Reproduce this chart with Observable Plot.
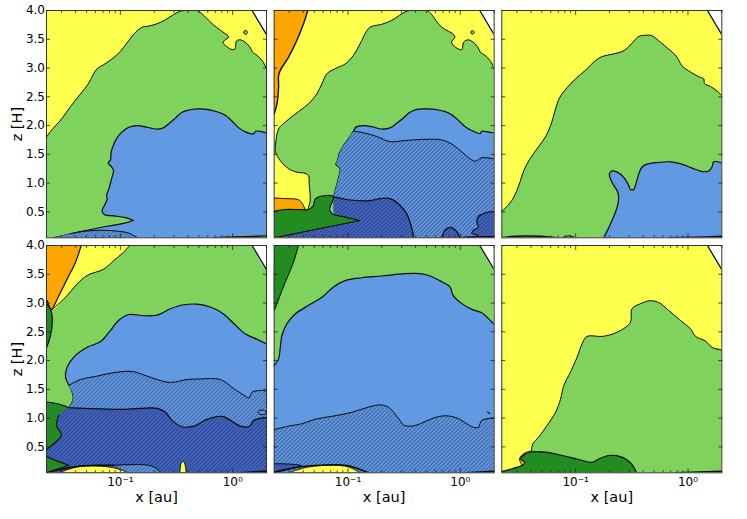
<!DOCTYPE html>
<html><head><meta charset="utf-8">
<script src="https://cdn.jsdelivr.net/npm/d3@7"></script>
<script src="https://cdn.jsdelivr.net/npm/@observablehq/plot@0.6"></script>
<style>html,body{margin:0;padding:0;background:#fff}svg{display:block}</style>
</head><body>
<svg width="0" height="0" style="position:absolute"><defs>
<pattern id="hatchBlue" patternUnits="userSpaceOnUse" width="4" height="4"><rect width="4" height="4" fill="#6299E3"/><path d="M-1,1L1,-1M0,4L4,0M3,5L5,3" stroke="#1c2f5c" stroke-width=".75"/></pattern>
<pattern id="hatchDark" patternUnits="userSpaceOnUse" width="4" height="4"><rect width="4" height="4" fill="#4366C4"/><path d="M-1,1L1,-1M0,4L4,0M3,5L5,3" stroke="#14224c" stroke-width=".75"/></pattern>
</defs></svg>
<script>
// Axis values
const xDomain = [0.022, 2], zDomain = [0.049, 4];
const xMajor = [0.1, 1], xMajorLabels = ["10⁻¹", "10⁰"];
const xMinor = [0.03,0.04,0.05,0.06,0.07,0.08,0.09,0.2,0.3,0.4,0.5,0.6,0.7,0.8,0.9,2];
const zTicks = [0.5,1,1.5,2,2.5,3,3.5,4];
const L = Math.log10(xDomain[0]), R = Math.log10(xDomain[1]), B = zDomain[0], T = zDomain[1];
const BL=[L,B], BR=[R,B], TL=[L,T], TR=[R,T], fullPanel=[BL,TL,TR,BR];
const YELLOW="#FFFF4D", LIGHT="#7FD35C", BLUE="#6299E3", DGREEN="#228B22", ORANGE="#FFA500", INK="#0a0a0a";
const HBLUE="url(#hatchBlue)", HDARK="url(#hatchDark)";
const P1=[0,0],P2=[1,0],P3=[2,0],P4=[0,1],P5=[1,1],P6=[2,1];

// Boundaries, as [log10 x, z]
const cornerEdge=[[.173,4],[.301,3.58]];

const p1Green=[[L,1.80],[-1.621,1.90],[-1.576,2.00],[-1.517,2.13],[-1.444,2.33],[-1.355,2.55],[-1.281,2.74],[-1.241,2.89],[-1.206,2.99],[-1.147,3.06],[-1.073,3.16],[-.999,3.29],[-.925,3.48],[-.866,3.62],[-.805,3.71],[-.746,3.73],[-.673,3.77],[-.599,3.84],[-.525,3.93],[-.466,3.99],[-.405,4],[-.317,4],[-.272,3.94],[-.199,3.80],[-.14,3.70],[-.075,3.61],[-.036,3.54],[-.087,3.45],[-.051,3.37],[-.004,3.32],[.02,3.33],[.034,3.47],[.07,3.49],[.129,3.42],[.164,3.33],[.176,3.28],[.217,3.22],[.262,3.13],[R,2.99]];
const p1Oval=[[.098,3.62],[.103,3.645],[.114,3.655],[.125,3.645],[.13,3.62],[.125,3.595],[.114,3.585],[.103,3.595],[.098,3.62]];
const p1Blue=[[R,1.87],[.247,1.90],[.203,1.90],[.188,1.86],[.158,1.86],[.114,1.89],[.055,1.96],[-.007,2.08],[-.066,2.18],[-.14,2.24],[-.228,2.28],[-.317,2.29],[-.39,2.27],[-.451,2.23],[-.51,2.13],[-.569,2.03],[-.628,1.95],[-.687,1.94],[-.761,1.97],[-.852,2.00],[-.925,1.97],[-.984,1.89],[-1.029,1.79],[-1.064,1.65],[-1.082,1.54],[-1.088,1.40],[-1.108,1.35],[-1.082,1.29],[-1.061,1.22],[-1.079,1.07],[-1.102,.90],[-1.123,.78],[-1.117,.73],[-1.141,.61],[-1.163,.52],[-1.141,.45],[-1.058,.43],[-.955,.40],[-.885,.35],[-.885,.35],[-.97,.30],[-1.117,.25],[-1.296,.18],[-1.444,.12],[-1.597,B]];
const p1Lens=[[-1.444,.12],[-1.326,.16],[-1.176,.18],[-1.029,.165],[-.925,.13],[-.846,B]];
const p1Base=[[-.169,B],[R,.083]];

const p2Orange=[[-1.358,4],[-1.396,3.77],[-1.456,3.48],[-1.529,3.19],[-1.603,2.96],[-1.618,2.87],[-1.618,2.67],[-1.632,2.38],[L,2.20]];
const p2Green=[[-1.358,.54],[-1.337,.70],[-1.346,.99],[-1.352,1.13],[-1.382,1.17],[-1.456,1.19],[-1.529,1.25],[-1.603,1.39],[-1.646,1.54],[-1.646,1.65],[-1.618,1.94],[-1.559,2.06],[-1.47,2.20],[-1.352,2.38],[-1.278,2.55],[-1.232,2.73],[-1.188,2.90],[-1.114,2.99],[-1.026,3.07],[-.952,3.22],[-.893,3.42],[-.832,3.65],[-.794,3.72],[-.699,3.76],[-.611,3.83],[-.522,3.94],[-.476,3.99],[-.417,4],[-.299,4],[-.255,3.93],[-.196,3.77],[-.137,3.67],[-.078,3.61],[-.048,3.54],[-.078,3.45],[-.042,3.36],[.014,3.32],[.029,3.45],[.073,3.49],[.132,3.42],[.167,3.32],[.176,3.28],[.22,3.22],[.265,3.13],[R,2.99]];
const p2Oval=[[.092,3.62],[.097,3.64],[.108,3.65],[.119,3.64],[.124,3.62],[.119,3.6],[.108,3.59],[.097,3.6],[.092,3.62]];
const p2BlueTop=[[R,1.87],[.244,1.89],[.191,1.90],[.176,1.86],[.117,1.90],[.043,1.98],[-.033,2.12],[-.107,2.22],[-.196,2.27],[-.299,2.29],[-.387,2.28],[-.448,2.23],[-.507,2.13],[-.566,2.04],[-.625,1.96],[-.699,1.94],[-.788,1.98],[-.861,2.00],[-.931,1.97],[-.943,1.93]];
const p2BlueLeft=[[-.996,1.77],[-1.04,1.65],[-1.079,1.51],[-1.091,1.40],[-1.108,1.33],[-1.07,1.25],[-1.079,1.13],[-1.114,.87],[-1.129,.76]];
const p2HatchTop=[[-.943,1.90],[-.849,1.87],[-.745,1.81],[-.625,1.72],[-.493,1.74],[-.314,1.76],[-.166,1.75],[-.078,1.68],[.014,1.54],[.073,1.44],[.132,1.38],[.191,1.44],[R,1.42]];
const p2Deep=[[-1.129,.76],[-.996,.71],[-.878,.69],[-.788,.70],[-.714,.73],[-.625,.73],[-.552,.64],[-.478,.47],[-.434,.23],[-.417,B]];
const p2DeepBump=[[-.166,B],[-.137,.18],[-.092,.23],[-.042,.18],[-.004,B]];
const p2DeepRight=[[R,.51],[.22,.48],[.161,.42],[.147,.32],[.161,.23],[.117,.18],[.102,.13],[.161,.09],[.02,.055]];
const p2Base=[[-.004,.055],[.14,.065],[R,.07]];
const p2Forest=[[L,B],[L,B],[-.893,.35],[-.893,.35],[-1.026,.41],[-1.144,.47],[-1.164,.55],[-1.129,.76],[-1.217,.78],[-1.293,.72],[-1.308,.61],[-1.352,.54],[-1.441,.54],[-1.559,.54],[L,.51]];
const p2OrangeLow=[[L,.74],[-1.559,.73],[-1.441,.71],[-1.405,.64],[-1.382,.54]];

const p3Green=[[L,.51],[-1.594,.63],[-1.55,.76],[-1.506,.96],[-1.461,1.22],[-1.417,1.39],[-1.343,1.60],[-1.27,1.80],[-1.223,2.00],[-1.179,2.29],[-1.144,2.48],[-1.076,2.66],[-1.002,2.81],[-.914,2.96],[-.823,3.13],[-.764,3.20],[-.676,3.24],[-.572,3.30],[-.499,3.43],[-.438,3.55],[-.379,3.57],[-.32,3.56],[-.246,3.45],[-.172,3.33],[-.098,3.19],[-.054,3.04],[.023,2.93],[.096,2.85],[.141,2.81],[.147,2.73],[.2,2.68],[.259,2.60],[R,2.52]];
const p3Blue=[[R,1.35],[.229,1.37],[.214,1.28],[.185,1.21],[.126,1.20],[.037,1.26],[-.054,1.33],[-.157,1.37],[-.261,1.36],[-.364,1.33],[-.408,1.28],[-.438,1.16],[-.463,.99],[-.484,.89],[-.513,.89],[-.528,.96],[-.572,1.10],[-.631,1.19],[-.681,1.21],[-.699,1.16],[-.69,1.07],[-.661,.96],[-.631,.87],[-.617,.76],[-.631,.58],[-.69,.29],[-.749,B]];
const p3BaseLeft=[[L,.05],[-1.58,.07],[-1.417,.08],[-1.211,.06],[-1.165,B]];
const p3BaseLens=[[-1.12,B],[-1.061,.085],[-1.002,B]];
const p3BaseRight=[[-.172,B],[.067,.06],[R,.075]];

const p4Yellow=[[-.917,4],[-.984,3.86],[-1.058,3.74],[-1.147,3.59],[-1.296,3.48],[-1.385,3.33],[-1.488,3.10],[-1.606,2.89]];
const p4Orange=[[-1.349,4],[-1.399,3.71],[-1.473,3.42],[-1.547,3.13],[-1.615,2.89],[-1.65,3.04]];
const p4Sliver=[[L,2.99],[-1.621,2.89],[-1.606,2.73],[-1.621,2.44],[L,2.22]];
const p4Blue=[[R,2.29],[.217,2.37],[.114,2.46],[.011,2.64],[-.081,2.81],[-.199,2.93],[-.317,2.98],[-.435,2.97],[-.555,2.90],[-.673,2.79],[-.791,2.78],[-.925,2.80],[-1.014,2.70],[-1.102,2.49],[-1.176,2.33],[-1.296,2.23],[-1.414,2.06],[-1.473,1.89],[-1.488,1.71],[-1.458,1.57],[-1.429,1.45],[-1.42,1.33],[-1.458,1.18]];
const p4HatchLeft=[[-1.458,1.18],[-1.42,1.33],[-1.429,1.45]];
const p4HatchTop=[[-1.458,1.57],[-1.355,1.67],[-1.206,1.73],[-1.058,1.79],[-.896,1.81],[-.791,1.75],[-.673,1.67],[-.555,1.62],[-.405,1.67],[-.287,1.68],[-.11,1.67],[.011,1.51],[.099,1.40],[.144,1.35],[.173,1.45],[.247,1.48],[R,1.47]];
const p4Oval=[[.227,1.10],[.24,1.13],[.262,1.14],[.285,1.13],[.298,1.10],[.285,1.07],[.262,1.06],[.24,1.07],[.227,1.10]];
const p4Forest=[[L,1.28],[-1.562,1.25],[-1.458,1.18]];
const p4DeepTop=[[-1.458,1.18],[-1.326,1.17],[-1.176,1.16],[-.999,1.15],[-.82,1.17],[-.673,1.17],[-.599,1.10],[-.54,.96],[-.451,.85],[-.346,.86],[-.228,.98],[-.095,1.03],[-.019,.96],[.055,.87],[.144,.85],[.188,.96],[R,1.01]];
const p4DeepLeft=[[L,B],[L,B],[-1.458,.18],[-1.458,.18],[-1.621,.30],[L,.35],[L,.44],[-1.576,.58],[-1.524,.71],[-1.568,.87],[-1.547,1.05]];
const p4LowLine=[[L,B],[-1.546,.10],[-1.385,.16],[-1.206,.18],[-1.058,.18]];
const p4LowHatch=[[-1.058,.18],[-.911,.19],[-.791,.19],[-.702,.15],[-.658,.09],[-.637,B]];
const p4LowYellow=[[-1.546,B],[-1.385,.15],[-1.206,.165],[-1.058,.135],[-.925,B]];
const p4Spike=[[-.47,B],[-.461,.205],[-.444,.25],[-.426,.205],[-.414,B]];
const p4Base=[[.07,B],[R,.08]];

const p5Forest=[[-1.441,4],[-1.485,3.71],[-1.559,3.36],[L,2.87]];
const p5Blue=[[L,1.91],[-1.618,2.03],[-1.603,2.23],[-1.588,2.44],[-1.544,2.64],[-1.47,2.81],[-1.352,2.96],[-1.232,3.10],[-1.129,3.28],[-1.026,3.39],[-.878,3.44],[-.699,3.47],[-.493,3.51],[-.358,3.51],[-.269,3.47],[-.166,3.37],[-.092,3.28],[-.063,3.13],[.014,2.99],[.102,2.89],[.191,2.83],[.25,2.73],[R,2.63]];
const p5HatchTop=[[L,.80],[-1.529,.86],[-1.411,.90],[-1.293,.98],[-1.144,1.03],[-.967,1.10],[-.819,1.19],[-.714,1.23],[-.64,1.19],[-.581,1.07],[-.537,.96],[-.507,.88],[-.434,.86],[-.358,.90],[-.255,.99],[-.137,1.04],[-.03,1.0],[.058,.90],[.117,.84],[.161,.84],[.191,.96],[R,1.0]];
const p5Flick=[[.243,1.10],[.263,1.08]];
const p5DeepLens=[[L,.205],[-1.559,.205],[-1.411,.17],[-1.546,.10],[L,B]];
const p5LowYellow=[[-1.529,B],[-1.352,.15],[-1.144,.18],[-.996,.15],[-.893,B]];
const p5LowLine=[[L,.06],[-1.441,.15],[-1.232,.18],[-1.026,.18],[-.908,.12],[-.819,B]];
const p5Dot=[[-.44,B],[-.43,.07],[-.42,B]];
const p5Base=[[.043,B],[R,.075]];

const p6Green=[[-1.393,.42],[-1.382,.55],[-1.329,.67],[-1.255,.87],[-1.179,1.10],[-1.135,1.33],[-1.105,1.57],[-1.046,1.80],[-.987,2.06],[-.943,2.29],[-.899,2.42],[-.764,2.42],[-.646,2.48],[-.513,2.66],[-.499,2.90],[-.408,3.00],[-.343,3.04],[-.261,3.01],[-.172,2.87],[-.069,2.70],[.023,2.55],[.067,2.42],[.155,2.34],[.214,2.23],[R,2.18]];
const p6Forest=[[L,.07],[-1.565,.12],[-1.476,.18],[-1.452,.23],[-1.491,.29],[-1.461,.36],[-1.393,.41],[-1.27,.41],[-1.12,.35],[-.973,.28],[-.853,.23],[-.794,.29],[-.705,.35],[-.617,.34],[-.541,.27],[-.482,.15],[-.46,B]];
const p6Thread=[[-1.476,.18],[-1.5,.27],[-1.5,.30],[-1.461,.385],[-1.393,.425],[-1.393,.41]];
const p6Base=[[-.113,B],[R,.075]];

// Marks
const dup = pts => pts.flatMap(p => [p, p]);
const place = panel => ({x:d=>10**d[0], y:d=>d[1], fx:()=>panel[0], fy:()=>panel[1], curve:"catmull-rom", clip:true});
function region(panel, color, curve, closure=[], lead=[], width=1){
  const out=[Plot.line([...lead,...curve,...dup(closure)], {...place(panel), fill:color, stroke:"none"})];
  if(curve.length) out.push(Plot.line(curve, {...place(panel), stroke:INK, strokeWidth:width}));
  return out;
}
const line = (panel, curve, width=1.2) => Plot.line(curve, {...place(panel), stroke:INK, strokeWidth:width});
const corner = panel => region(panel, "#fff", cornerEdge, [TR], [], 1.3);

const marks = [
  // panel 1
  region(P1,YELLOW,[],fullPanel),
  region(P1,LIGHT,p1Green,[BR,BL]),
  region(P1,LIGHT,p1Oval),
  region(P1,BLUE,p1Blue,[BR],[],1.2),
  region(P1,HBLUE,p1Lens,[],[[-1.597,B]]),
  region(P1,LIGHT,p1Base,[BR],[],1.4),
  corner(P1),
  // panel 2
  region(P2,YELLOW,[],fullPanel),
  region(P2,ORANGE,p2Orange,[TL],[],1.4),
  region(P2,ORANGE,p2OrangeLow,[[L,.5]]),
  region(P2,LIGHT,p2Green,[BR,[-1.358,B]]),
  region(P2,LIGHT,p2Oval),
  region(P2,BLUE,[...p2BlueTop,...p2BlueLeft],[[-1.129,B],BR],[],1.2),
  region(P2,HBLUE,p2HatchTop,[BR,[-1.129,B]],[...p2BlueLeft].reverse()),
  region(P2,HDARK,p2Deep,[BL,[-1.129,.3]],[],1.2),
  region(P2,HDARK,p2DeepBump,[],[],1.2),
  region(P2,HDARK,p2DeepRight,[[.02,B],BR],[],1.1),
  line(P2,p2Base,1.4),
  region(P2,DGREEN,p2Forest,[],[],1.1),
  corner(P2),
  // panel 3
  region(P3,YELLOW,[],fullPanel),
  region(P3,LIGHT,p3Green,[BR,BL]),
  region(P3,BLUE,p3Blue,[BR],[],1.2),
  region(P3,BLUE,p3BaseLens),
  line(P3,p3BaseLeft,1.5),
  line(P3,p3BaseRight,1.4),
  corner(P3),
  // panel 4
  region(P4,LIGHT,[],fullPanel),
  region(P4,YELLOW,p4Yellow,[TL]),
  region(P4,ORANGE,p4Orange,[TL],[],1.2),
  region(P4,DGREEN,p4Sliver,[],[],1.2),
  region(P4,BLUE,p4Blue,[[-1.458,B],BR],[],1.2),
  region(P4,HBLUE,p4HatchTop,[BR,[-1.458,B]],p4HatchLeft),
  region(P4,BLUE,p4Oval),
  region(P4,DGREEN,p4Forest,[[-1.458,B],BL],[],1.2),
  region(P4,HDARK,p4DeepTop,[BR,BL],[...p4DeepLeft],1.2),
  line(P4,p4DeepLeft,1.1),
  region(P4,HBLUE,p4LowHatch,[[-.925,B]]),
  region(P4,YELLOW,p4LowYellow,[],[],.8),
  line(P4,p4LowLine,1.5),
  region(P4,YELLOW,p4Spike),
  line(P4,p4Base,1.4),
  corner(P4),
  // panel 5
  region(P5,LIGHT,[],fullPanel),
  region(P5,DGREEN,p5Forest,[TL]),
  region(P5,BLUE,p5Blue,[BR,BL],[],1.2),
  region(P5,HBLUE,p5HatchTop,[BR,BL]),
  line(P5,p5Flick,1.2),
  region(P5,HDARK,p5DeepLens),
  region(P5,YELLOW,p5LowYellow,[],[],.8),
  line(P5,p5LowLine,1.5),
  region(P5,LIGHT,p5Dot,[],[],.5),
  line(P5,p5Base,1.4),
  corner(P5),
  // panel 6
  region(P6,YELLOW,[],fullPanel),
  region(P6,LIGHT,p6Green,[BR,[-1.393,B]]),
  region(P6,ORANGE,p6Thread,[],[],.9),
  region(P6,DGREEN,p6Forest,[BL],[],1.2),
  line(P6,p6Base,1.4),
  corner(P6)
].flat();

const tickStyle={facetAnchor:null, fill:"none", label:null, stroke:"#222", strokeWidth:.8};
const axes=[
  Plot.axisX({...tickStyle, anchor:"bottom", ticks:xMinor, tickSize:-2, tickFormat:()=>""}),
  Plot.axisX({...tickStyle, anchor:"top", ticks:xMinor, tickSize:-2, tickFormat:()=>""}),
  Plot.axisX({...tickStyle, anchor:"bottom", ticks:xMajor, tickSize:-4, tickFormat:()=>""}),
  Plot.axisX({...tickStyle, anchor:"top", ticks:xMajor, tickSize:-4, tickFormat:()=>""}),
  Plot.axisY({...tickStyle, anchor:"left", ticks:zTicks, tickSize:-4, tickFormat:()=>""}),
  Plot.axisY({...tickStyle, anchor:"right", ticks:zTicks, tickSize:-4, tickFormat:()=>""}),
  Plot.axisX({anchor:"bottom", facetAnchor:"bottom", ticks:xMajor, tickSize:0, tickPadding:5, label:null, fontSize:12, tickFormat:d=>xMajorLabels[xMajor.indexOf(d)]}),
  Plot.axisY({anchor:"left", facetAnchor:"left", ticks:zTicks, tickSize:0, tickPadding:1.5, label:null, fontSize:12, tickFormat:d3.format(".1f")})
];
const xLabels=[0,1,2].map(i=>Plot.text(["x [au]"],{text:d=>d, fx:()=>i, fy:()=>1, frameAnchor:"bottom", lineAnchor:"middle", dy:24.5, fontSize:14.5}));
const zLabels=[0,1].map(j=>Plot.text(["z [H]"],{text:d=>d, fx:()=>0, fy:()=>j, frameAnchor:"left", textAnchor:"middle", dx:-29, rotate:-90, fontSize:14.5}));

const chart=Plot.plot({
  width:747, height:519, marginLeft:46, marginRight:25.7, marginTop:10, marginBottom:46.7,
  style:{background:"#fff", fontFamily:"DejaVu Sans", color:"#000"},
  x:{type:"log", domain:xDomain, axis:null},
  y:{domain:zDomain, axis:null},
  fx:{domain:[0,1,2], paddingInner:.0336, paddingOuter:0, round:false, axis:null, label:null},
  fy:{domain:[0,1], paddingInner:.0328, paddingOuter:0, round:false, axis:null, label:null},
  marks:[...marks, Plot.frame({stroke:"#333", strokeWidth:1}), ...axes, ...xLabels, ...zLabels]
});
document.body.appendChild(chart);
</script>
</body></html>
